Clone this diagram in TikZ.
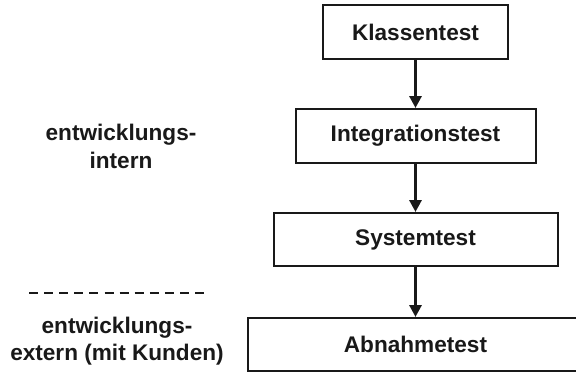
\documentclass[tikz,border=0pt]{standalone}
\usepackage{fontspec}
\setmainfont{Liberation Sans}
\usetikzlibrary{arrows.meta}
\begin{document}
\begin{tikzpicture}[x=1pt,y=-1pt,
  testbox/.style={draw=black!90, line width=2pt, fill=white, inner sep=0pt,
    font=\fontsize{22.6}{27}\selectfont\bfseries, text=black!90},
  lbl/.style={align=center, inner sep=0pt,
    font=\fontsize{22.6}{27.5}\selectfont\bfseries, text=black!90},
  flow/.style={draw=black!90, line width=3pt, -{Triangle[length=12pt,width=12pt]}},
  sep/.style={draw=black!90, line width=2.8pt, dash pattern=on 9pt off 6.1pt}]
\useasboundingbox (0,0) rectangle (576,375);
\clip (0,0) rectangle (576,375);
\node[testbox, minimum width=185pt, minimum height=54pt] (k) at (415.5,32) {Klassentest};
\node[testbox, minimum width=240pt, minimum height=54pt] (i) at (415.5,136) {Integrationstest};
\node[testbox, minimum width=284pt, minimum height=53pt] (s) at (415.5,239.5) {Systemtest};
\node[testbox, minimum width=336pt, minimum height=53pt] (a) at (415.5,344.5) {Abnahmetest};
\draw[flow] (k.south) -- (i.north);
\draw[flow] (i.south) -- (s.north);
\draw[flow] (s.south) -- (a.north);
\node[lbl] (intern) at (121,146.5) {entwicklungs-\\intern};
\node[lbl] (extern) at (117,341) {entwicklungs-\\extern (mit Kunden)};
\coordinate (d1) at (29,293);
\coordinate (d2) at (204,293);
\draw[sep] (d1) -- (d2);
\end{tikzpicture}
\end{document}
